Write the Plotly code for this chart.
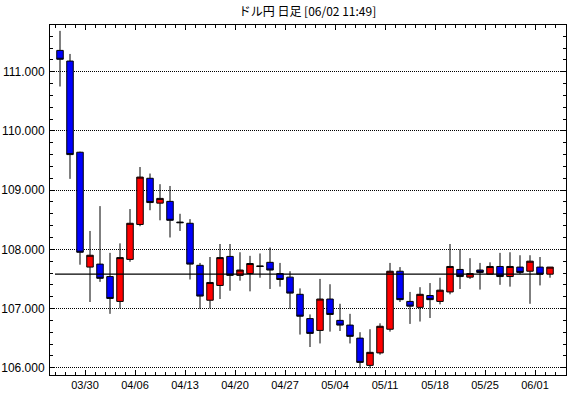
import plotly.graph_objects as go

# trading days (MM/DD), 2020-03-25 .. 2020-06-02
dates = ["03/25", "03/26", "03/27",
         "03/30", "03/31", "04/01", "04/02", "04/03",
         "04/06", "04/07", "04/08", "04/09", "04/10",
         "04/13", "04/14", "04/15", "04/16", "04/17",
         "04/20", "04/21", "04/22", "04/23", "04/24",
         "04/27", "04/28", "04/29", "04/30", "05/01",
         "05/04", "05/05", "05/06", "05/07", "05/08",
         "05/11", "05/12", "05/13", "05/14", "05/15",
         "05/18", "05/19", "05/20", "05/21", "05/22",
         "05/25", "05/26", "05/27", "05/28", "05/29",
         "06/01", "06/02"]
weekday = ["W", "T", "F"] + ["M", "T", "W", "T", "F"] * 9 + ["M", "T"]

open_ = [111.36, 111.18, 109.64,
         107.70, 107.75, 107.54, 107.12, 107.83,
         108.42, 109.20, 108.78, 108.81, 108.46,
         108.44, 107.73, 107.14, 107.39, 107.88,
         107.56, 107.59, 107.72, 107.78, 107.59,
         107.53, 107.24, 106.83, 106.63, 107.16,
         106.80, 106.72, 106.50, 106.04, 106.25,
         106.65, 107.63, 107.12, 107.02, 107.22,
         107.12, 107.28, 107.66, 107.53, 107.65,
         107.58, 107.71, 107.54, 107.70, 107.63,
         107.70, 107.58]
high = [111.69, 111.30, 109.65,
        108.31, 108.73, 107.94, 108.10, 108.68,
        109.39, 109.28, 109.10, 109.07, 108.60,
        108.51, 107.77, 107.87, 108.09, 108.09,
        107.95, 107.89, 107.93, 108.03, 107.77,
        107.63, 107.34, 106.90, 107.50, 107.41,
        107.08, 106.91, 106.60, 106.65, 106.75,
        107.77, 107.70, 107.28, 107.36, 107.43,
        107.52, 108.09, 108.00, 107.85, 107.77,
        107.78, 107.94, 107.95, 107.90, 107.90,
        107.87, 107.70]
low = [110.75, 109.19, 107.74,
       107.11, 107.45, 106.91, 107.00, 107.79,
       108.39, 108.66, 108.49, 108.20, 108.31,
       107.49, 106.99, 107.00, 107.16, 107.30,
       107.47, 107.29, 107.52, 107.33, 107.37,
       106.99, 106.56, 106.35, 106.41, 106.61,
       106.62, 106.41, 105.99, 105.99, 106.22,
       106.61, 107.11, 106.74, 106.78, 106.84,
       107.07, 107.24, 107.33, 107.50, 107.32,
       107.58, 107.40, 107.37, 107.58, 107.08,
       107.39, 107.52]
close = [111.21, 109.60, 107.95,
         107.90, 107.51, 107.17, 107.86, 108.44,
         109.22, 108.79, 108.86, 108.49, 108.45,
         107.75, 107.21, 107.44, 107.86, 107.56,
         107.65, 107.76, 107.71, 107.65, 107.49,
         107.26, 106.87, 106.58, 107.16, 106.90,
         106.72, 106.53, 106.09, 106.26, 106.70,
         107.63, 107.15, 107.04, 107.24, 107.15,
         107.31, 107.71, 107.54, 107.59, 107.61,
         107.71, 107.54, 107.71, 107.61, 107.80,
         107.58, 107.70]

last_price = 107.58
title_text = "ドル円 日足 [06/02 11:49]"

idx = list(range(len(dates)))
week_ticks = [i - 0.5 for i, d in enumerate(weekday) if d == "M"]
week_labels = [dates[i] for i, d in enumerate(weekday) if d == "M"]

fig = go.Figure()
fig.add_trace(go.Candlestick(
    x=idx, open=open_, high=high, low=low, close=close,
    text=dates, hoverinfo="text+y",
    increasing=dict(line=dict(color="black", width=1), fillcolor="#ff0000"),
    decreasing=dict(line=dict(color="black", width=1), fillcolor="#0000ff"),
    whiskerwidth=0,
    showlegend=False,
))

fig.add_shape(type="line", xref="x", yref="y",
              x0=idx[0] - 0.5, x1=idx[-1] - 0.7, y0=last_price, y1=last_price,
              line=dict(color="black", width=1.2), layer="above")

x_font = dict(family="Liberation Sans, Arial, sans-serif", size=11, color="black")
y_font = dict(family="Liberation Sans, Arial, sans-serif", size=12, color="black")

fig.update_layout(
    width=570, height=398,
    margin=dict(l=50, r=4, t=25, b=23, autoexpand=False),
    paper_bgcolor="white", plot_bgcolor="white",
    boxgap=0.35, boxgroupgap=0,
    title=dict(text=title_text, x=0.5394, xanchor="center", y=0.97, yanchor="middle",
               font=dict(family="Noto Sans CJK JP", size=12, color="black")),
    xaxis=dict(
        range=[-1.0, 50.6], automargin=False,
        rangeslider=dict(visible=False),
        showline=True, linecolor="black", linewidth=1, mirror="ticks",
        showgrid=False, zeroline=False,
        tickmode="array", tickvals=week_ticks, ticktext=week_labels,
        ticks="inside", ticklen=5, tickcolor="black", tickwidth=1,
        tickfont=x_font,
        minor=dict(tickmode="linear", tick0=-0.5, dtick=1, ticks="inside",
                   ticklen=3, tickcolor="black", tickwidth=1, showgrid=False),
    ),
    yaxis=dict(
        range=[105.877, 111.789], automargin=False,
        showline=True, linecolor="black", linewidth=1, mirror="ticks",
        showgrid=True, gridcolor="black", gridwidth=1, griddash="1px,1px",
        zeroline=False,
        tickmode="linear", tick0=106, dtick=1, tickformat=".3f",
        ticks="inside", ticklen=5, tickcolor="black", tickwidth=1,
        tickfont=y_font, ticklabelstandoff=2,
        minor=dict(tickmode="linear", tick0=106, dtick=0.2, ticks="inside",
                   ticklen=3, tickcolor="black", tickwidth=1, showgrid=False),
    ),
)

fig.write_html("out.html", config={"displayModeBar": False},
               post_script="document.body.style.margin='0';document.body.style.overflow='hidden';")
